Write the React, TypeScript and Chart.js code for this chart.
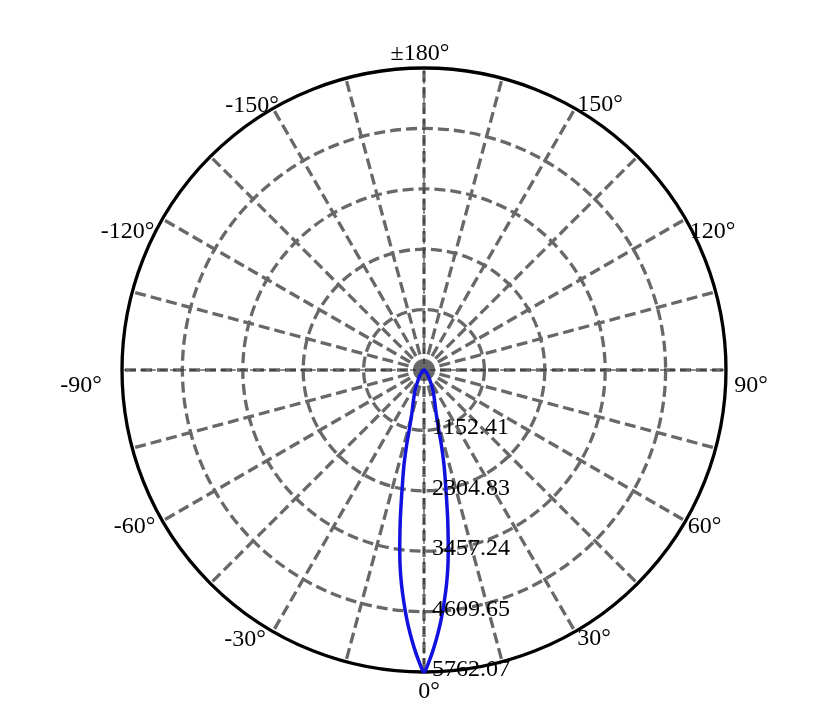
import React, { useEffect, useRef } from "react";
import { Chart, registerables } from "chart.js";

Chart.register(...registerables);

// ---- data ----
const maxIntensity = 5762.07;
const tickValues = [1152.41, 2304.83, 3457.24, 4609.65, 5762.07];
const tickLabels = ["1152.41", "2304.83", "3457.24", "4609.65", "5762.07"];
const angleLabelValues = [180, 150, 120, 90, 60, 30, 0, -30, -60, -90, -120, -150];
// one-sided measured beam profile (symmetric about 0°)
const beamAngles = [0, 1, 2, 3, 4, 5, 6, 7, 8, 9, 10, 11, 12, 13, 14, 15, 16, 18, 20, 23, 26, 30, 35, 40, 50, 60, 75, 90];
const beamValues = [5762, 5560, 5310, 5040, 4750, 4435, 4110, 3750, 3320, 2890, 2470, 2120, 1820, 1480, 1140, 940, 820, 680, 570, 450, 330, 230, 150, 100, 50, 25, 8, 0];

// angle for each radar label, clockwise from top (top = ±180°, right = 90°, bottom = 0°)
const gammaLabels: number[] = Array.from({ length: 360 }, (_, i) => 180 - i);

const FONT = '"Liberation Serif", "Times New Roman", serif';

// text placement offsets (relative to the circle point) for the angle labels
const labelOffset: Record<string, [number, number]> = {
  "180": [-4, -16],
  "150": [25, -5],
  "120": [27, 11],
  "90": [25, 14],
  "60": [19, 3.5],
  "30": [19, 5.5],
  "0": [5, 18],
  "-30": [-28, 6.5],
  "-60": [-28, 3.5],
  "-90": [-41, 14],
  "-120": [-35, 11],
  "-150": [-21, -4],
};

const polarText = {
  id: "polarText",
  beforeDatasetsDraw(chart: any) {
    const s = chart.scales.r;
    const ctx = chart.ctx;
    const R = s.drawingArea;
    ctx.save();
    ctx.strokeStyle = "#222";
    ctx.lineWidth = 1;
    ctx.setLineDash([6, 4]);
    const pairs = [[0, 180], [90, 270]];
    for (const [a, b] of pairs) {
      const p1 = s.getPointPosition(a, R);
      const p2 = s.getPointPosition(b, R);
      ctx.beginPath();
      ctx.moveTo(p1.x, p1.y);
      ctx.lineTo(p2.x, p2.y);
      ctx.stroke();
    }
    ctx.restore();
  },
  afterDraw(chart: any) {
    const s = chart.scales.r;
    const ctx = chart.ctx;
    const R = s.drawingArea;
    const bottomIndex = gammaLabels.indexOf(0);
    ctx.save();
    ctx.fillStyle = "#000";
    ctx.font = `24px ${FONT}`;
    ctx.textAlign = "left";
    ctx.textBaseline = "alphabetic";
    tickValues.forEach((v, i) => {
      const p = s.getPointPositionForValue(bottomIndex, v);
      ctx.fillText(tickLabels[i], p.x + 8, p.y + 4);
    });
    ctx.textAlign = "center";
    angleLabelValues.forEach((g) => {
      const idx = gammaLabels.indexOf(g);
      const p = s.getPointPosition(idx, R);
      const off = labelOffset[String(g)];
      const txt = g === 180 ? "±180°" : `${g}°`;
      ctx.fillText(txt, p.x + off[0], p.y + off[1] + 8);
    });
    ctx.restore();
  },
};

export default function App() {
  const ref = useRef<HTMLCanvasElement | null>(null);

  useEffect(() => {
    if (!ref.current) return;
    const data = gammaLabels.map((g) => {
      const k = beamAngles.indexOf(Math.abs(g));
      return k >= 0 ? beamValues[k] : null;
    });
    const chart = new Chart(ref.current, {
      type: "radar",
      data: {
        labels: gammaLabels.map((g) => String(g)),
        datasets: [
          {
            data,
            borderColor: "#1212e0",
            borderWidth: 3.5,
            backgroundColor: "rgba(0,0,0,0)",
            fill: false,
            pointRadius: 0,
            pointHoverRadius: 0,
            tension: 0.3,
            spanGaps: true,
          },
        ],
      },
      options: {
        animation: false,
        responsive: false,
        events: [],
        layout: { padding: { left: 122, right: 100, top: 68, bottom: 50 } },
        plugins: { legend: { display: false }, tooltip: { enabled: false }, title: { display: false } },
        scales: {
          r: {
            min: 0,
            max: maxIntensity,
            startAngle: 0,
            ticks: { display: false, count: 6 },
            pointLabels: { display: false },
            grid: {
              circular: true,
              color: (c: any) => (c.index === 5 ? "#000" : "#686868"),
              lineWidth: 3.3,
            },
            border: { dash: (c: any) => (c.index === 5 ? [] : [11, 5]) } as any,
            angleLines: {
              color: "#686868",
              lineWidth: (c: any) => (c.index % 15 === 0 ? 3.3 : 0),
              borderDash: [11, 5],
            },
          },
        },
      },
      plugins: [polarText],
    });
    return () => chart.destroy();
  }, []);

  return (
    <div style={{ position: "absolute", left: 0, top: 0, width: 826, height: 722, background: "#fff" }}>
      <canvas ref={ref} width={826} height={722} />
    </div>
  );
}
